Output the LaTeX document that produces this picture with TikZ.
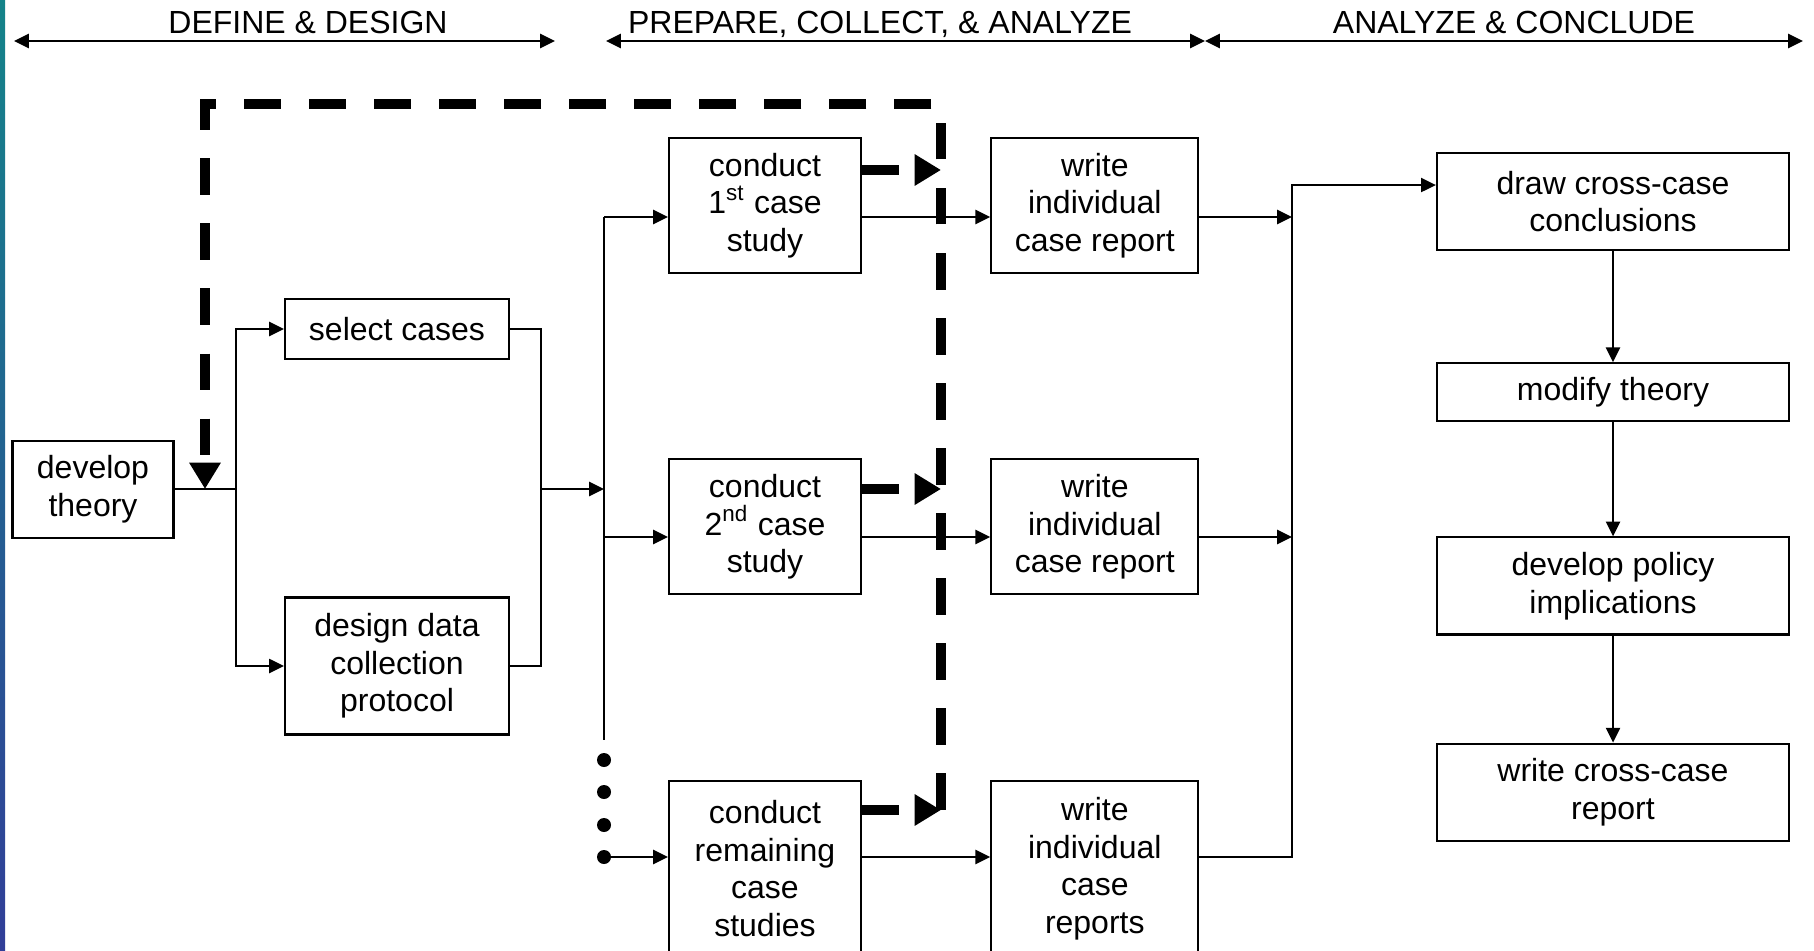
\documentclass[tikz,border=0pt]{standalone}
\usepackage{fontspec}
\setsansfont{Liberation Sans}
\usepackage{tikz}
\usetikzlibrary{arrows, arrows.meta, positioning}
\definecolor{stripTop}{RGB}{20,131,137}
\definecolor{stripBot}{RGB}{49,62,152}

\begin{document}
\begin{tikzpicture}[-,>={Triangle[length=4.2pt,width=4pt]},x=0.01cm,y=-0.01cm,
  line width=0.6pt,
  box/.style={rectangle,draw,align=center,inner sep=0pt,
    font=\sffamily\fontsize{9.1}{10.7}\selectfont},
  phase/.style={anchor=base,font=\sffamily\fontsize{9.1}{10.7}\selectfont},
  dot/.style={circle,fill,inner sep=0pt,minimum size=0.14cm},
  loop line/.style={line width=2.6pt,dash pattern=on 10.5pt off 8pt,
    >={Triangle[length=7.5pt,width=8.5pt]}}]

  \useasboundingbox (0,0) rectangle (1814,951);
  \shade[top color=stripTop,bottom color=stripBot] (0,0) rectangle (5,951);

  % phases
  \node[phase] (p1) at (308,33) {DEFINE \& DESIGN};
  \node[phase] (p2) at (880,33) {PREPARE, COLLECT, \& ANALYZE};
  \node[phase] (p3) at (1514,33) {ANALYZE \& CONCLUDE};
  \coordinate (h0) at (14,41);
  \coordinate (h1) at (555,41);
  \coordinate (h2) at (606,41);
  \coordinate (h3) at (1205,41);
  \coordinate (h4) at (1803,41);
  \draw[<->] (h0) -- (h1);
  \draw[<->] (h2) -- (h3);
  \draw[<->] (h3) -- (h4);

  % boxes
  \node[box, minimum width=1.61cm, minimum height=0.97cm] (theory) at (93,489.5) {develop\\theory};
  \node[box, minimum width=2.24cm, minimum height=0.60cm] (sel) at (397,329) {select cases};
  \node[box, minimum width=2.24cm, minimum height=1.37cm] (des) at (397,666) {design data\\collection\\protocol};

  \node[box, minimum width=1.92cm, minimum height=1.35cm] (c1) at (765,205.5) {conduct\\1\textsuperscript{st} case\\study};
  \node[box, minimum width=1.92cm, minimum height=1.35cm] (c2) [below=1.84cm of c1] {conduct\\2\textsuperscript{nd} case\\study};
  \node[box, minimum width=1.92cm, minimum height=1.76cm] (c3) [below=1.84cm of c2] {conduct\\remaining\\case\\studies};

  \node[box, minimum width=2.07cm, minimum height=1.35cm] (w1) [right=1.28cm of c1] {write\\individual\\case report};
  \node[box, minimum width=2.07cm, minimum height=1.35cm] (w2) [right=1.28cm of c2] {write\\individual\\case report};
  \node[box, minimum width=2.07cm, minimum height=1.76cm] (w3) [right=1.28cm of c3] {write\\individual\\case\\reports};

  \node[box, minimum width=3.52cm, minimum height=0.97cm] (dc) at (1613,201.5) {draw cross-case\\conclusions};
  \node[box, minimum width=3.52cm, minimum height=0.58cm] (mt) [below=1.11cm of dc] {modify theory};
  \node[box, minimum width=3.52cm, minimum height=0.97cm] (dp) [below=1.14cm of mt] {develop policy\\implications};
  \node[box, minimum width=3.52cm, minimum height=0.97cm] (wr) [below=1.07cm of dp] {write cross-case\\report};

  % rows
  \coordinate (r1) at (0,217);
  \coordinate (r2) at (0,537);
  \coordinate (r3) at (0,857);
  \coordinate (d1) at (0,170);
  \coordinate (d2) at (0,489);
  \coordinate (d3) at (0,810);

  % define & design
  \coordinate (split) at (236,489);
  \coordinate (join) at (541,489);
  \coordinate (bus) at (604,489);
  \draw (theory.east |- split) -- (split);
  \draw[->] (split) |- (sel.west);
  \draw[->] (split) |- (des.west);
  \draw (sel.east) -| (join) |- (des.east);
  \draw[->] (join) -- (bus);

  % cases
  \coordinate (busTop) at (604,217);
  \coordinate (busEnd) at (604,740);
  \node[dot] (dot1) at (604,760) {};
  \node[dot] (dot2) at (604,792) {};
  \node[dot] (dot3) at (604,825) {};
  \node[dot] (dot4) at (604,857) {};
  \draw (busTop) -- (busEnd);
  \draw[->] (busTop) -- (c1.west |- r1);
  \draw[->] (bus |- r2) -- (c2.west |- r2);
  \draw[->] (dot4.center) -- (c3.west |- r3);

  \path[->]
    (c1.east |- r1) edge (w1.west |- r1)
    (c2.east |- r2) edge (w2.west |- r2)
    (c3.east |- r3) edge (w3.west |- r3);

  % conclude
  \coordinate (gather) at (1292,185);
  \path[->]
    (w1.east |- r1) edge (gather |- r1)
    (w2.east |- r2) edge (gather |- r2);
  \draw[->] (w3.east |- r3) -| (gather) -- (dc.west |- gather);

  \path[->]
    (dc) edge (mt)
    (mt) edge (dp)
    (dp) edge (wr);

  % feedback loop
  \coordinate (loopBot) at (941,810);
  \coordinate (loopR) at (941,104);
  \coordinate (loopL) at (205,104);
  \coordinate (loopIn) at (205,489);
  \draw[loop line,->] (loopBot) -- (loopR) -- (loopL) -- (loopIn);
  \path[loop line,->]
    (c1.east |- d1) edge (loopR |- d1)
    (c2.east |- d2) edge (loopR |- d2)
    (c3.east |- d3) edge (loopR |- d3);
\end{tikzpicture}
\end{document}
